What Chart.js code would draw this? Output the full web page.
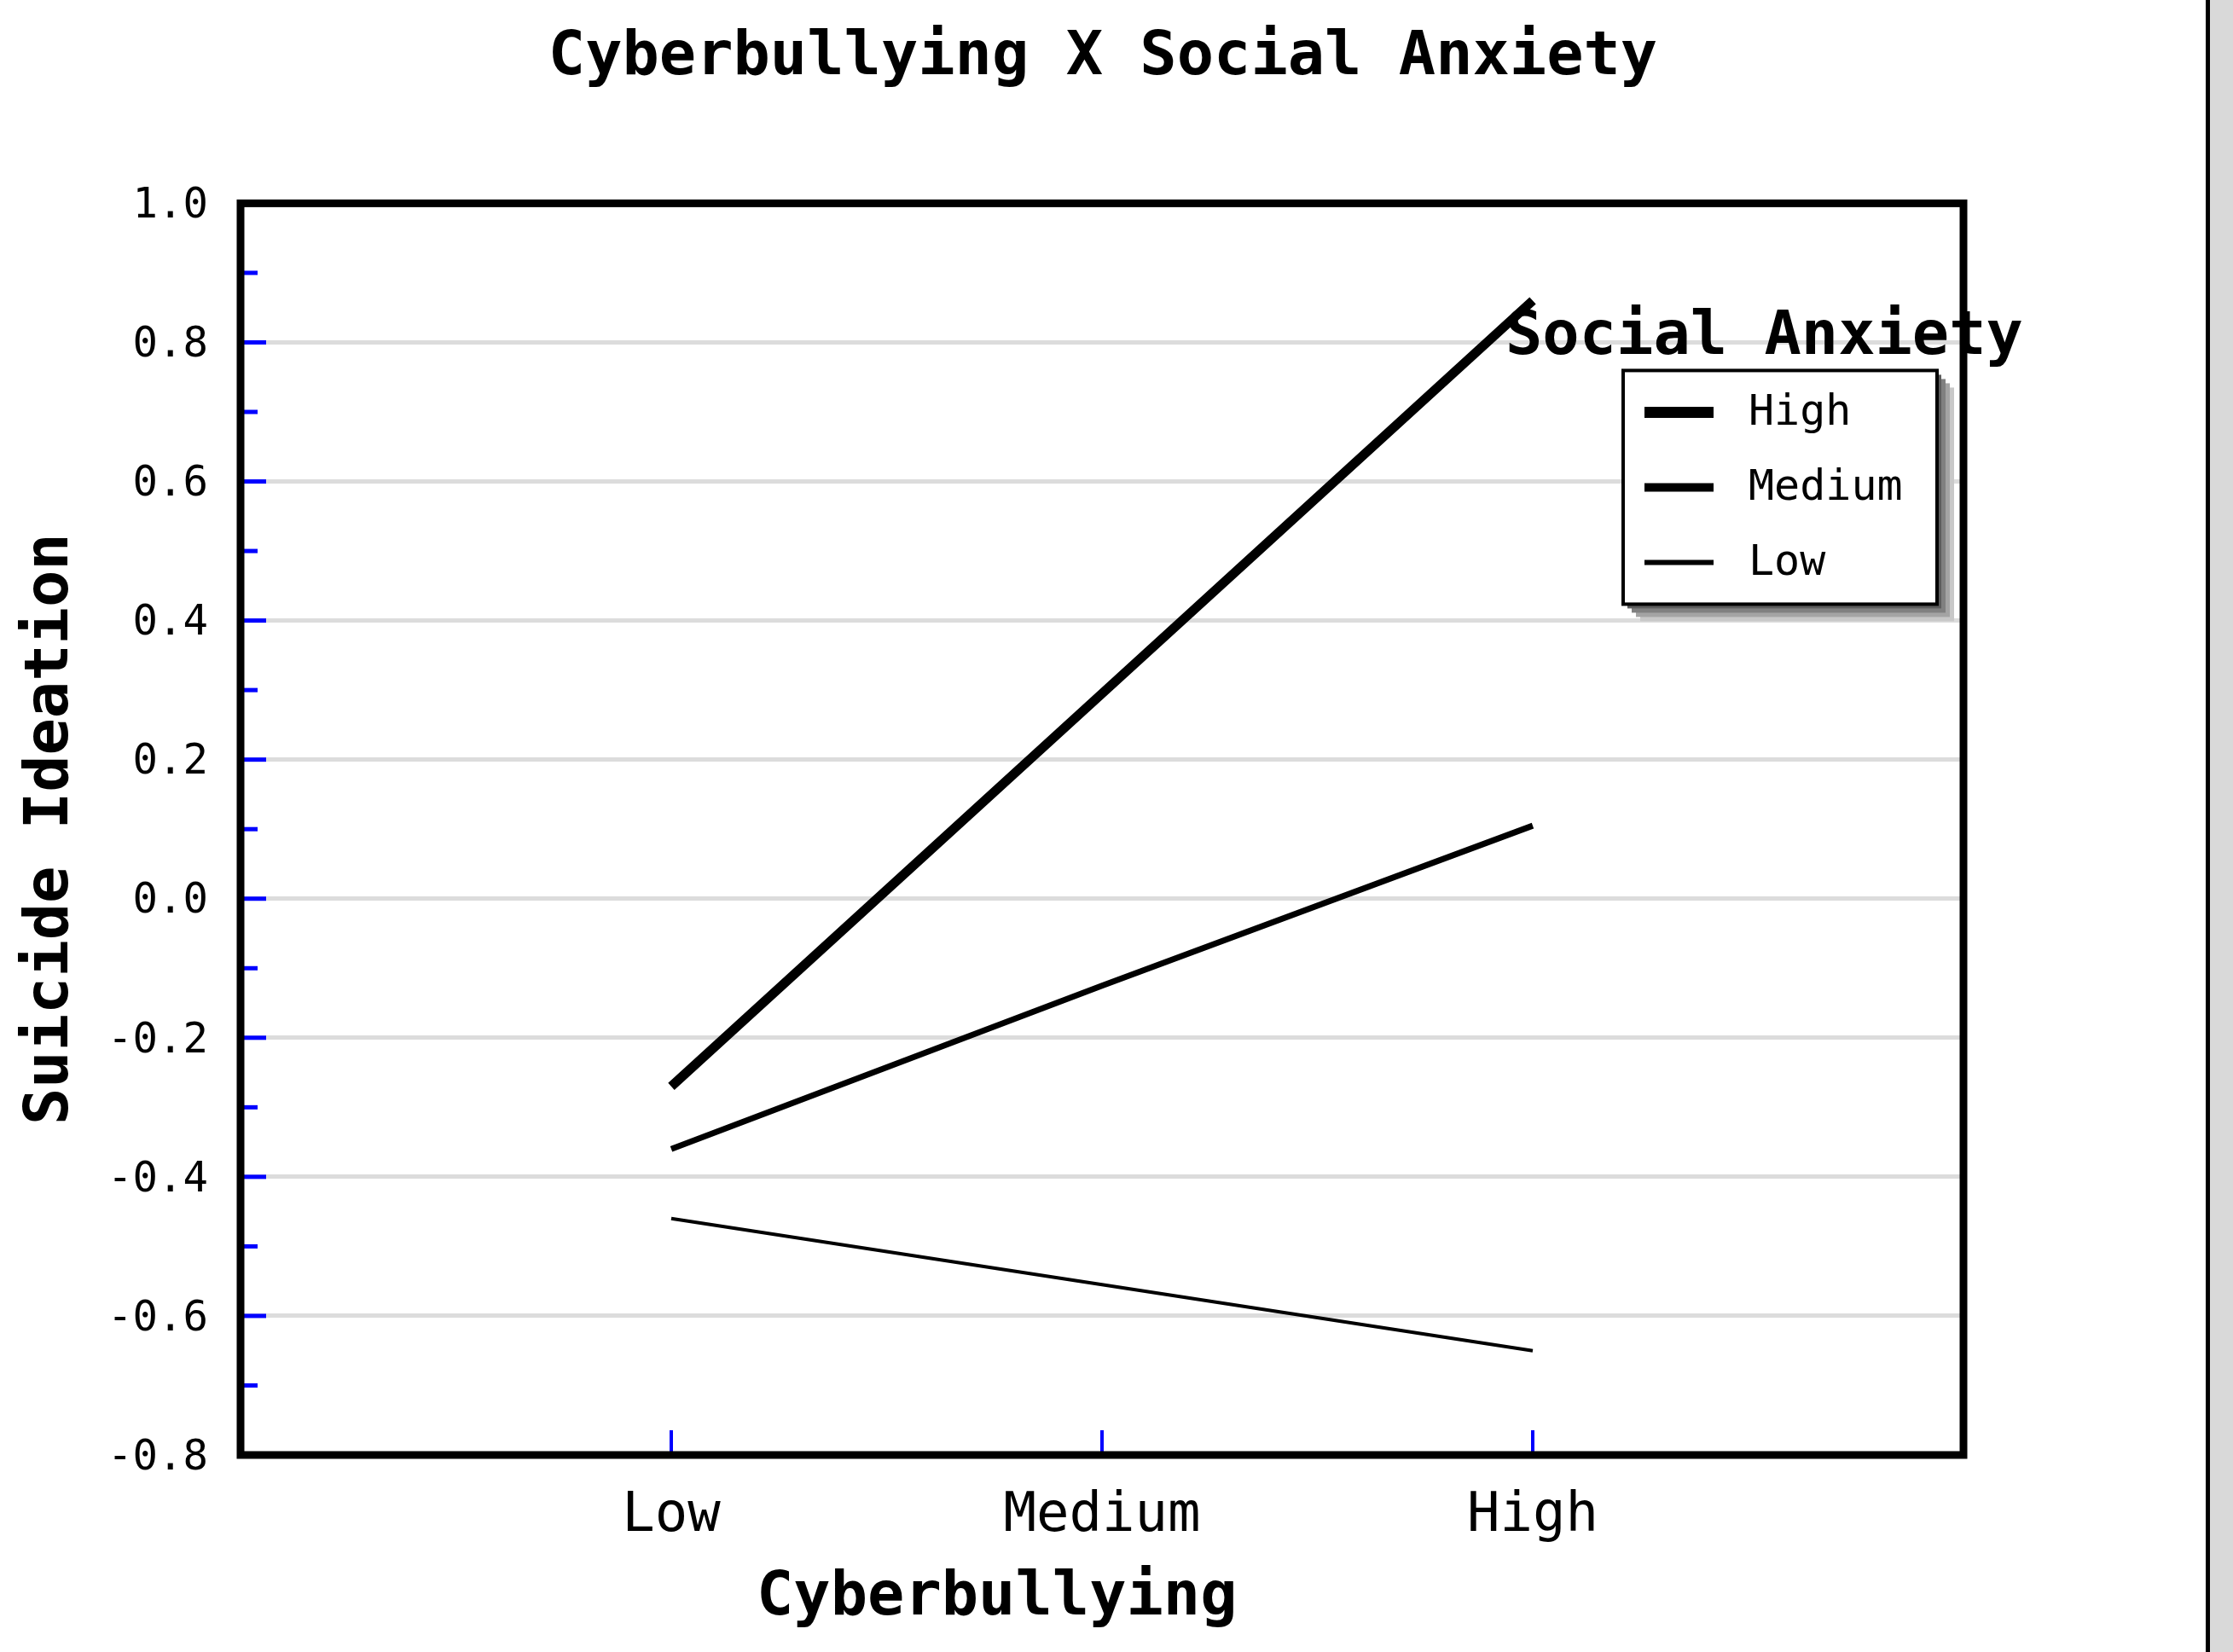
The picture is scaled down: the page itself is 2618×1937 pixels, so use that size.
<!DOCTYPE html>
<html><head><meta charset="utf-8">
<script src="https://cdn.jsdelivr.net/npm/chart.js@4.4.1/dist/chart.umd.min.js"></script>
<style>
html,body{margin:0;padding:0;background:#d9d9d9;}
#wrap{width:2586px;height:1937px;background:#fff;border-right:5px solid #000;position:relative;}
canvas{display:block;}
</style></head><body>
<div id="wrap"><canvas id="c"></canvas></div>
<script>
const chartTitle = 'Cyberbullying X Social Anxiety';
const xAxisTitle = 'Cyberbullying';
const yAxisTitle = 'Suicide Ideation';
const legendTitle = 'Social Anxiety';
const cyberbullyingLevels = ['Low', 'Medium', 'High'];
const seriesNames = ['High', 'Medium', 'Low'];
const highAnxiety = [-0.27, 0.295, 0.86];
const mediumAnxiety = [-0.36, -0.125, 0.105];
const lowAnxiety = [-0.46, -0.555, -0.65];
const yMin = -0.8, yMax = 1.0, yStep = 0.1;

const seriesValues = [highAnxiety, mediumAnxiety, lowAnxiety];
const lineWidths = [11, 7, 4];
const legendWidths = [13, 10, 6];
const MONO = "'DejaVu Sans Mono', monospace";

Chart.defaults.color = '#000';

const isMajor = v => Math.abs(Math.round(v * 10)) % 2 === 0;

const decor = {
  id: 'decor',
  afterDatasetsDraw(chart) {
    const {ctx, chartArea: a, scales} = chart;
    const ys = scales.y, xs = scales.x;
    ctx.save();
    // inward blue ticks
    ctx.strokeStyle = '#0000ff';
    ctx.lineWidth = 5;
    ys.ticks.forEach(t => {
      if (Math.abs(t.value - yMin) < 1e-9 || Math.abs(t.value - yMax) < 1e-9) return;
      const y = ys.getPixelForValue(t.value);
      ctx.beginPath();
      ctx.moveTo(a.left, y);
      ctx.lineTo(a.left + (isMajor(t.value) ? 30 : 20), y);
      ctx.stroke();
    });
    ctx.lineWidth = 4;
    cyberbullyingLevels.forEach((c, i) => {
      const x = xs.getPixelForValue(i + 1);
      ctx.beginPath();
      ctx.moveTo(x, a.bottom);
      ctx.lineTo(x, a.bottom - 29);
      ctx.stroke();
    });
    // plot frame
    ctx.strokeStyle = '#000';
    ctx.lineWidth = 9;
    ctx.strokeRect(a.left, a.top, a.right - a.left, a.bottom - a.top);
    ctx.restore();
  },
  afterDraw(chart) {
    const {ctx, chartArea: a} = chart;
    ctx.save();
    // x axis title
    ctx.fillStyle = '#000';
    ctx.font = "bold 72px " + MONO;
    ctx.textAlign = 'center';
    ctx.textBaseline = 'middle';
    ctx.fillText(xAxisTitle, a.left + (a.right - a.left) * 0.439, 1874);

    // legend
    const bx = a.right - 399, by = a.top + 196, bw = 368, bh = 274;
    const shades = ['#c8c8c8', '#a4a4a4', '#808080', '#5c5c5c'];
    shades.forEach((col, k) => {
      const off = 5 * (shades.length - k);
      ctx.fillStyle = col;
      ctx.fillRect(bx + off, by + off, bw, bh);
    });
    ctx.fillStyle = '#fff';
    ctx.fillRect(bx, by, bw, bh);
    ctx.strokeStyle = '#000';
    ctx.lineWidth = 4;
    ctx.strokeRect(bx, by, bw, bh);

    ctx.fillStyle = '#000';
    ctx.textAlign = 'left';
    ctx.font = "bold 72px " + MONO;
    ctx.fillText(legendTitle, bx - 138, by - 38);

    ctx.font = "50px " + MONO;
    chart.data.datasets.forEach((ds, i) => {
      const y = by + 49 + i * 88;
      ctx.strokeStyle = ds.borderColor;
      ctx.lineWidth = legendWidths[i];
      ctx.beginPath();
      ctx.moveTo(bx + 25, y);
      ctx.lineTo(bx + 106, y);
      ctx.stroke();
      ctx.fillStyle = '#000';
      ctx.fillText(ds.label, bx + 147, y + 2);
    });
    ctx.restore();
  }
};

new Chart(document.getElementById('c'), {
  type: 'line',
  data: {
    datasets: seriesNames.map((name, i) => ({
      label: name,
      data: seriesValues[i].map((v, j) => ({x: j + 1, y: v})),
      borderColor: '#000',
      backgroundColor: '#000',
      borderWidth: lineWidths[i],
      pointRadius: 0,
      tension: 0,
      fill: false
    }))
  },
  options: {
    responsive: true,
    maintainAspectRatio: false,
    animation: false,
    devicePixelRatio: 1,
    layout: {padding: 0},
    plugins: {
      legend: {display: false},
      tooltip: {enabled: false},
      title: {
        display: true,
        text: chartTitle,
        color: '#000',
        font: {family: MONO, size: 72, weight: 'bold', lineHeight: 1.2},
        padding: {top: 25, bottom: 127}
      }
    },
    scales: {
      x: {
        type: 'linear',
        min: 0, max: 4,
        grid: {display: false, drawTicks: false},
        border: {display: false},
        ticks: {
          stepSize: 1,
          autoSkip: false,
          maxRotation: 0,
          padding: 34,
          font: {family: MONO, size: 64},
          callback: v => cyberbullyingLevels[v - 1] ?? ''
        },
        afterFit(s) { s.height = 231; }
      },
      y: {
        type: 'linear',
        min: yMin, max: yMax,
        grid: {
          drawTicks: false,
          lineWidth: 5,
          color: c => (c.tick && isMajor(c.tick.value)) ? '#dcdcdc' : 'rgba(0,0,0,0)'
        },
        border: {display: false},
        ticks: {
          stepSize: yStep,
          autoSkip: false,
          padding: 38,
          labelOffset: 4,
          font: {family: MONO, size: 49},
          callback: v => isMajor(v) ? (Math.round(v * 10) / 10).toFixed(1) : ''
        },
        title: {
          display: true,
          text: yAxisTitle,
          color: '#000',
          font: {family: MONO, size: 72, weight: 'bold', lineHeight: 1.2},
          padding: {top: 17, bottom: 0}
        },
        afterFit(s) { s.width = 282; }
      },
      yR: {
        type: 'linear',
        position: 'right',
        display: true,
        grid: {display: false, drawTicks: false},
        border: {display: false},
        ticks: {display: false},
        afterFit(s) { s.width = 284; }
      }
    }
  },
  plugins: [decor]
});
</script>
</body></html>
